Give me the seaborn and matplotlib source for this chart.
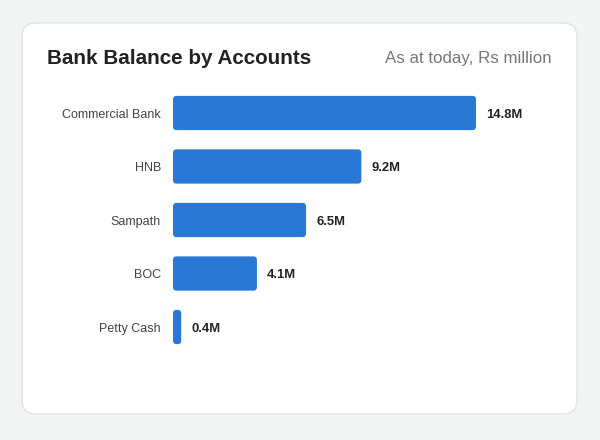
import matplotlib
matplotlib.use("Agg")
import matplotlib.pyplot as plt
import seaborn as sns
import pandas as pd
from matplotlib.patches import FancyBboxPatch

# data
accounts = ["Commercial Bank", "HNB", "Sampath", "BOC", "Petty Cash"]
balances = [14.8, 9.2, 6.5, 4.1, 0.4]
value_labels = ["14.8M", "9.2M", "6.5M", "4.1M", "0.4M"]

title = "Bank Balance by Accounts"
subtitle = "As at today, Rs million"

df = pd.DataFrame({"account": accounts, "balance": balances})

sns.set_theme(style="white")
plt.rcParams["font.family"] = ["Liberation Sans", "DejaVu Sans"]

W, H = 600, 440
fig = plt.figure(figsize=(6, 4.4), dpi=100)
fig.patch.set_facecolor("#f3f4f4")

# card background (drawn beneath the axes)
card = FancyBboxPatch(
    (22 / W, 1 - 414 / H), (577 - 22) / W, (414 - 23) / H,
    boxstyle="round,pad=0,rounding_size=%f" % (14 / W),
    mutation_aspect=W / H,
    transform=fig.transFigure, facecolor="white", edgecolor="#e1e3e3",
    linewidth=1.0, zorder=-10,
)
fig.patches.append(card)

# axes placed in pixels: x from 173 to 552, y bar centres 113..327
ax_left, ax_right = 173, 552
ax_top, ax_bottom = 113 - 26.75, 327 + 26.75
ax = fig.add_axes([ax_left / W, 1 - ax_bottom / H,
                   (ax_right - ax_left) / W, (ax_bottom - ax_top) / H])
ax.set_facecolor("none")
ax.set_zorder(1)

sns.barplot(data=df, y="account", x="balance", orient="h", color="#2a78d6",
            saturation=1, width=0.64, ax=ax)

px_per_unit = 303 / 14.8
ax.set_xlim(0, (ax_right - ax_left) / px_per_unit)
ax.set_ylim(4.5, -0.5)

# rounded bars
r_x = 3.5 / px_per_unit
r_y = 3.5 / 53.5
for p in list(ax.patches):
    x, y, w, h = p.get_x(), p.get_y(), p.get_width(), p.get_height()
    fc = p.get_facecolor()
    p.remove()
    ax.add_patch(FancyBboxPatch(
        (x, y), w, h,
        boxstyle="round,pad=0,rounding_size=%f" % min(r_x, w / 2),
        mutation_aspect=r_y / r_x, facecolor=fc, edgecolor="none"))

for i, (v, lab) in enumerate(zip(balances, value_labels)):
    ax.annotate(lab, (v, i), xytext=(7.2, 0), textcoords="offset points",
                va="center_baseline", ha="left", fontsize=9.4,
                fontweight="bold", color="#222222")

ax.set_xlabel("")
ax.set_ylabel("")
ax.set_xticks([])
ax.tick_params(axis="y", length=0, pad=8.6, labelsize=9.0, labelcolor="#444444")
for s in ax.spines.values():
    s.set_visible(False)

fig.text(47 / W, 1 - 58 / H, title, fontsize=14.9, fontweight="bold",
         color="#222222", va="center", ha="left")
fig.text(552 / W, 1 - 59 / H, subtitle, fontsize=12.2, color="#777777",
         va="center", ha="right")

fig.savefig("out.png", dpi=100, facecolor=fig.get_facecolor())
